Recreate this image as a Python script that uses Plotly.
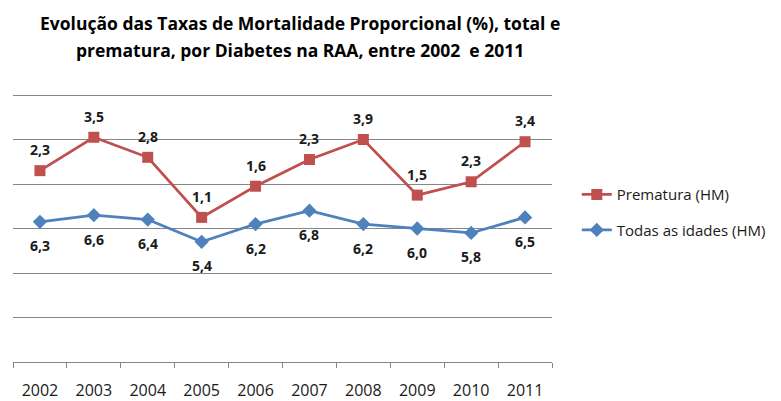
import plotly.graph_objects as go

# DADOS
anos = ['2002', '2003', '2004', '2005', '2006', '2007', '2008', '2009', '2010', '2011']
prematura = [8.6, 10.1, 9.2, 6.5, 7.9, 9.1, 10.0, 7.5, 8.1, 9.9]
prematura_rotulos = ['2,3', '3,5', '2,8', '1,1', '1,6', '2,3', '3,9', '1,5', '2,3', '3,4']
todas = [6.3, 6.6, 6.4, 5.4, 6.2, 6.8, 6.2, 6.0, 5.8, 6.5]
todas_rotulos = ['6,3', '6,6', '6,4', '5,4', '6,2', '6,8', '6,2', '6,0', '5,8', '6,5']

VERMELHO = '#C0504D'
AZUL = '#4F81BD'
FONTE = 'Open Sans'

fig = go.Figure()

fig.add_trace(go.Scatter(x=anos, y=prematura, name='Prematura (HM)',
                         mode='lines+markers', legendgroup='a',
                         line=dict(color=VERMELHO, width=2.75),
                         marker=dict(symbol='square', size=11, color=VERMELHO)))

fig.add_trace(go.Scatter(x=anos, y=todas, name='Todas as idades (HM)',
                         mode='lines+markers', legendgroup='b',
                         line=dict(color=AZUL, width=2.75),
                         marker=dict(symbol='diamond', size=11, color=AZUL)))

# RÓTULOS DE DADOS (x PELO ÍNDICE DA CATEGORIA)
for i, (v, r) in enumerate(zip(prematura, prematura_rotulos)):
    fig.add_annotation(x=i, y=v, text='<b>' + r + '</b>', showarrow=False,
                       yshift=21, font=dict(family=FONTE, size=14, color='#1a1a1a'))
for i, (v, r) in enumerate(zip(todas, todas_rotulos)):
    fig.add_annotation(x=i, y=v, text='<b>' + r + '</b>', showarrow=False,
                       yshift=-24, font=dict(family=FONTE, size=14, color='#1a1a1a'))

# TÍTULO EM DUAS LINHAS
fig.add_annotation(xref='paper', yref='paper', x=0.533, y=1, yshift=68, yanchor='middle',
                   text='<b>Evolução das Taxas de Mortalidade Proporcional (%), total e</b>',
                   showarrow=False, font=dict(family=FONTE, size=17.5, color='black'))
fig.add_annotation(xref='paper', yref='paper', x=0.533, y=1, yshift=41, yanchor='middle',
                   text='<b>prematura, por Diabetes na RAA, entre 2002  e 2011</b>',
                   showarrow=False, font=dict(family=FONTE, size=17.5, color='black'))

fig.update_layout(
    width=781, height=401,
    margin=dict(l=5, r=237, t=83, b=47),
    plot_bgcolor='white', paper_bgcolor='white',
    showlegend=True,
    legend=dict(x=1.046, y=0.553, xanchor='left', yanchor='middle',
                font=dict(family=FONTE, size=15, color='#1a1a1a'),
                tracegroupgap=13, bgcolor='rgba(0,0,0,0)'),
    xaxis=dict(type='category', tickson='boundaries', ticks='outside', ticklen=5,
               tickcolor='#868686', showline=True, linecolor='#868686', linewidth=1,
               showgrid=False, ticklabelstandoff=14, tickangle=0, automargin=False,
               range=[-0.5, 9.5],
               tickfont=dict(family=FONTE, size=16, color='#1a1a1a')),
    yaxis=dict(range=[0, 12.18], dtick=2, showticklabels=False, showgrid=True,
               gridcolor='#868686', gridwidth=1, zeroline=False, showline=False),
)

fig.write_html('out.html')
